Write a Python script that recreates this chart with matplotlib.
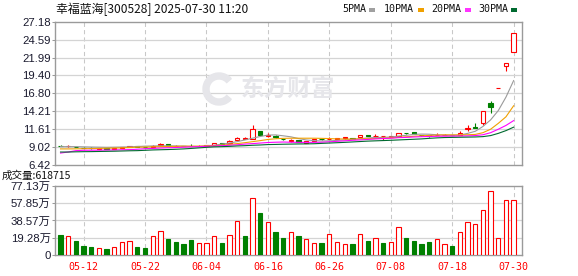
import matplotlib
matplotlib.use("Agg")
import matplotlib.pyplot as plt
from matplotlib.patches import Rectangle, Wedge
from matplotlib.transforms import IdentityTransform

plt.rcParams['font.family'] = ['Liberation Sans', 'Noto Sans CJK SC']

dates = ['05-07', '05-08', '05-09', '05-12', '05-13', '05-14', '05-15', '05-16', '05-19', '05-20',
         '05-21', '05-22', '05-23', '05-26', '05-27', '05-28', '05-29', '05-30', '06-03', '06-04',
         '06-05', '06-06', '06-09', '06-10', '06-11', '06-12', '06-13', '06-16', '06-17', '06-18',
         '06-19', '06-20', '06-23', '06-24', '06-25', '06-26', '06-27', '06-30', '07-01', '07-02',
         '07-03', '07-04', '07-07', '07-08', '07-09', '07-10', '07-11', '07-14', '07-15', '07-16',
         '07-17', '07-18', '07-21', '07-22', '07-23', '07-24', '07-25', '07-28', '07-29', '07-30']

opens = [9.22, 9.18, 9.05, 8.95, 8.95, 8.80, 8.85, 8.78, 8.92, 9.00,
         9.12, 9.08, 9.10, 9.30, 9.42, 9.18, 9.20, 9.18, 9.15, 9.20,
         9.37, 9.62, 9.66, 10.00, 10.20, 10.25, 11.36, 10.55, 10.68, 10.22,
         9.90, 10.05, 9.62, 9.92, 10.20, 10.18, 10.18, 10.26, 10.30, 10.45,
         10.70, 10.62, 10.55, 10.52, 10.68, 11.10, 11.18, 10.78, 10.70, 10.74,
         10.76, 10.80, 10.80, 11.60, 11.88, 12.47, 15.38, 17.60, 20.69, 22.78]
highs = [9.30, 9.35, 9.06, 9.00, 8.98, 8.90, 8.88, 8.90, 9.02, 9.20,
         9.15, 9.10, 9.30, 9.57, 9.50, 9.25, 9.22, 9.40, 9.25, 9.35,
         9.66, 9.66, 10.00, 10.42, 10.50, 12.23, 11.40, 11.00, 10.72, 10.25,
         10.15, 10.08, 9.88, 10.15, 10.22, 10.45, 10.36, 10.45, 10.32, 10.80,
         10.75, 10.85, 10.62, 10.68, 11.10, 11.10, 11.20, 10.80, 10.70, 11.00,
         10.85, 10.82, 11.30, 12.18, 12.47, 14.26, 15.71, 17.60, 21.18, 25.54]
lows = [9.12, 9.05, 9.00, 8.88, 8.80, 8.75, 8.72, 8.75, 8.90, 8.98,
        9.05, 9.00, 9.08, 9.25, 9.28, 9.12, 9.15, 9.12, 9.12, 9.18,
        9.35, 9.47, 9.64, 9.98, 10.15, 10.20, 10.70, 10.50, 10.40, 10.00,
        9.80, 9.72, 9.60, 9.88, 10.08, 10.15, 10.15, 10.22, 10.15, 10.42,
        10.55, 10.40, 10.10, 10.50, 10.65, 10.97, 10.92, 10.68, 10.42, 10.72,
        10.72, 10.70, 10.75, 11.30, 11.84, 12.20, 14.02, 17.60, 20.11, 22.78]
closes = [9.20, 9.22, 9.02, 8.92, 8.85, 8.88, 8.78, 8.85, 9.00, 9.12,
          9.08, 9.05, 9.20, 9.50, 9.30, 9.22, 9.18, 9.15, 9.20, 9.30,
          9.62, 9.52, 9.92, 10.40, 10.35, 11.60, 10.73, 10.78, 10.45, 10.20,
          10.02, 9.75, 9.85, 10.12, 10.18, 10.22, 10.33, 10.42, 10.20, 10.70,
          10.60, 10.66, 10.60, 10.66, 11.05, 11.07, 10.95, 10.72, 10.68, 10.78,
          10.80, 10.75, 11.08, 11.82, 11.85, 14.26, 14.78, 17.60, 21.18, 25.54]

# volume in 万 shares, and whether the bar is drawn red (up vs previous close)
volumes = [22.4, 21.2, 15.6, 10.1, 8.9, 7.5, 6.7, 8.6, 14.2, 15.3,
           8.9, 8.2, 20.9, 26.8, 18.3, 14.9, 12.7, 17.1, 13.0, 13.0,
           20.9, 13.8, 22.0, 38.0, 21.6, 63.3, 47.3, 36.5, 25.7, 19.4,
           25.4, 21.2, 17.5, 13.1, 13.4, 23.1, 14.2, 12.0, 12.3, 23.1,
           15.6, 18.7, 13.4, 14.2, 31.0, 19.0, 15.6, 12.3, 14.5, 17.5,
           12.0, 10.1, 25.4, 36.5, 34.3, 50.3, 71.5, 18.7, 61.5, 61.87]
vol_up = [0, 1, 0, 0, 0, 1, 0, 1, 1, 1,
          0, 0, 1, 1, 0, 0, 0, 0, 1, 1,
          1, 0, 1, 1, 0, 1, 0, 1, 0, 0,
          1, 0, 1, 1, 0, 1, 1, 1, 0, 1,
          0, 1, 0, 1, 1, 0, 0, 0, 0, 1,
          1, 0, 1, 1, 1, 1, 1, 1, 1, 1]

ma5 = [9.08, 9.08, 9.08, 9.05, 9.02, 9.00, 8.98, 9.00, 9.02, 9.05,
       9.10, 9.15, 9.18, 9.20, 9.20, 9.18, 9.15, 9.10, 9.10, 9.20,
       9.28, 9.45, 9.60, 9.80, 10.05, 10.30, 10.55, 10.75, 10.78, 10.65,
       10.50, 10.25, 10.05, 9.95, 9.90, 9.92, 9.98, 10.05, 10.12, 10.22,
       10.35, 10.40, 10.42, 10.48, 10.60, 10.72, 10.85, 10.90, 10.88, 10.80,
       10.75, 10.72, 10.75, 11.00, 11.30, 12.00, 12.95, 14.30, 16.25, 18.65]
ma10 = [8.75, 8.75, 8.76, 8.78, 8.80, 8.82, 8.85, 8.88, 8.90, 8.95,
        9.00, 9.02, 9.05, 9.08, 9.10, 9.12, 9.15, 9.15, 9.15, 9.18,
        9.22, 9.30, 9.40, 9.52, 9.65, 9.80, 9.95, 10.12, 10.22, 10.28,
        10.30, 10.30, 10.30, 10.30, 10.28, 10.25, 10.20, 10.18, 10.18, 10.20,
        10.22, 10.25, 10.30, 10.35, 10.42, 10.50, 10.58, 10.65, 10.70, 10.75,
        10.78, 10.78, 10.78, 10.80, 10.85, 11.10, 11.60, 12.45, 13.40, 15.00]
ma20 = [8.15, 8.30, 8.50, 8.55, 8.56, 8.57, 8.58, 8.60, 8.63, 8.65,
        8.70, 8.78, 8.82, 8.88, 8.92, 8.95, 9.00, 9.05, 9.08, 9.12,
        9.18, 9.22, 9.28, 9.35, 9.45, 9.52, 9.60, 9.68, 9.72, 9.75,
        9.72, 9.70, 9.70, 9.70, 9.72, 9.78, 9.85, 9.92, 10.00, 10.05,
        10.12, 10.20, 10.25, 10.30, 10.38, 10.42, 10.48, 10.52, 10.55, 10.58,
        10.60, 10.60, 10.62, 10.64, 10.68, 10.80, 11.10, 11.60, 12.15, 12.85]
ma30 = [8.30, 8.30, 8.33, 8.35, 8.36, 8.38, 8.40, 8.42, 8.45, 8.48,
        8.50, 8.55, 8.60, 8.63, 8.66, 8.70, 8.75, 8.82, 8.90, 8.98,
        9.05, 9.08, 9.12, 9.18, 9.22, 9.28, 9.32, 9.38, 9.40, 9.43,
        9.45, 9.47, 9.48, 9.50, 9.55, 9.60, 9.65, 9.70, 9.76, 9.82,
        9.88, 9.92, 9.96, 10.00, 10.05, 10.10, 10.15, 10.20, 10.28, 10.35,
        10.40, 10.42, 10.44, 10.46, 10.48, 10.53, 10.68, 11.00, 11.40, 11.90]

label_dates = ['05-12', '05-22', '06-04', '06-16', '06-26', '07-08', '07-18', '07-30']
price_ticks = [6.42, 9.02, 11.61, 14.21, 16.80, 19.40, 21.99, 24.59, 27.18]
vol_ticks = [0, 19.28, 38.57, 57.85, 77.13]
vol_labels = ['0', '19.28万', '38.57万', '57.85万', '77.13万']

RED = '#ff0000'
GREEN = '#008000'
GRID = '#d4d4d4'
FRAME = '#9a9a9a'
TXT = '#1a1a2e'
WATER = '#e6e6ea'

W, H = 578, 276
fig = plt.figure(figsize=(W / 100, H / 100), dpi=100)


def box(l, t, r, b):
    return [l / W, 1 - b / H, (r - l) / W, (b - t) / H]


ax = fig.add_axes(box(55, 21.7, 522.3, 165))
axv = fig.add_axes(box(55, 186, 522.3, 255))

n = len(dates)
xs = list(range(n))
label_pos = [dates.index(d) for d in label_dates]

for a in (ax, axv):
    a.set_xlim(-0.72, 60.13)
    for s in a.spines.values():
        s.set_color(FRAME)
        s.set_linewidth(1.0)
    for p in label_pos:
        a.axvline(p, color='#c8c8c8', lw=0.75, ls=(0, (4, 3)), zorder=1)
    a.tick_params(axis='y', length=2, width=0.75, color=FRAME, pad=1,
                  labelsize=8.2, labelcolor=TXT)

# price panel
ax.set_ylim(price_ticks[0], price_ticks[-1])
ax.set_yticks(price_ticks)
ax.set_yticklabels(['%.2f' % v for v in price_ticks])
for v in price_ticks[1:-1]:
    ax.axhline(v, color=GRID, lw=0.9, zorder=1)
ax.set_xticks([])

# faint watermark: logo swoosh + name
ax.add_artist(Wedge((219, H - 89), 16, 40, 320, width=6, transform=IdentityTransform(),
                    color=WATER, zorder=1))
ax.text(288 / W, 1 - 89 / H, '东方财富', transform=fig.transFigure,
        fontsize=17, fontweight='bold', color=WATER, ha='center',
        va='center', family='Noto Sans CJK SC', zorder=1)

bw = 0.56
for i in xs:
    o, h, l, c = opens[i], highs[i], lows[i], closes[i]
    up = c >= o
    col = RED if up else GREEN
    ax.vlines(i, l, h, color=col, lw=0.8, zorder=3)
    ax.add_patch(Rectangle((i - bw / 2, min(o, c)), bw, abs(c - o),
                           facecolor='white' if up else col, edgecolor=col,
                           lw=0.8, zorder=3))

ax.plot(xs, ma5, color='#9a9a9a', lw=0.8, zorder=4)
ax.plot(xs, ma10, color='#f0a000', lw=0.8, zorder=4)
ax.plot(xs, ma20, color='#ff00ff', lw=0.8, zorder=4)
ax.plot(xs, ma30, color='#006a30', lw=0.8, zorder=4)

# volume panel
axv.set_ylim(0, vol_ticks[-1])
axv.set_yticks(vol_ticks)
axv.set_yticklabels(vol_labels)
for v in vol_ticks[1:-1]:
    axv.axhline(v, color=GRID, lw=0.9, zorder=1)
face = ['white' if u else GREEN for u in vol_up]
edge = [RED if u else GREEN for u in vol_up]
axv.bar(xs, volumes, width=bw, color=face, edgecolor=edge, lw=0.8, zorder=3)
axv.set_xticks(label_pos)
axv.set_xticklabels(label_dates, family='DejaVu Sans Mono', fontsize=7.2, color=RED)
axv.tick_params(axis='x', length=0, pad=5)

# header texts
fig.text(56 / W, 1 - 9.5 / H, '幸福蓝海[300528] 2025-07-30 11:20',
         family='Noto Sans CJK SC', fontsize=8.6, color='#111111', va='center')
fig.text(2 / W, 1 - 175.5 / H, '成交量:618715', family='Noto Sans CJK SC',
         fontsize=7.6, color='#111111', va='center')

legend = [('5PMA', 342, 369, '#a0a0a0'), ('10PMA', 384, 418, '#f0a000'),
          ('20PMA', 431, 465, '#ff33ff'), ('30PMA', 478, 511, '#006a30')]
for name, tx, sx, col in legend:
    fig.text(tx / W, 1 - 9.5 / H, name, family='DejaVu Sans Mono', fontsize=7.2,
             color='#111111', va='center')
    fig.add_artist(Rectangle((sx / W, 1 - 11.5 / H), 6 / W, 4 / H,
                             transform=fig.transFigure, color=col, lw=0))

fig.savefig('out.png', dpi=100)
